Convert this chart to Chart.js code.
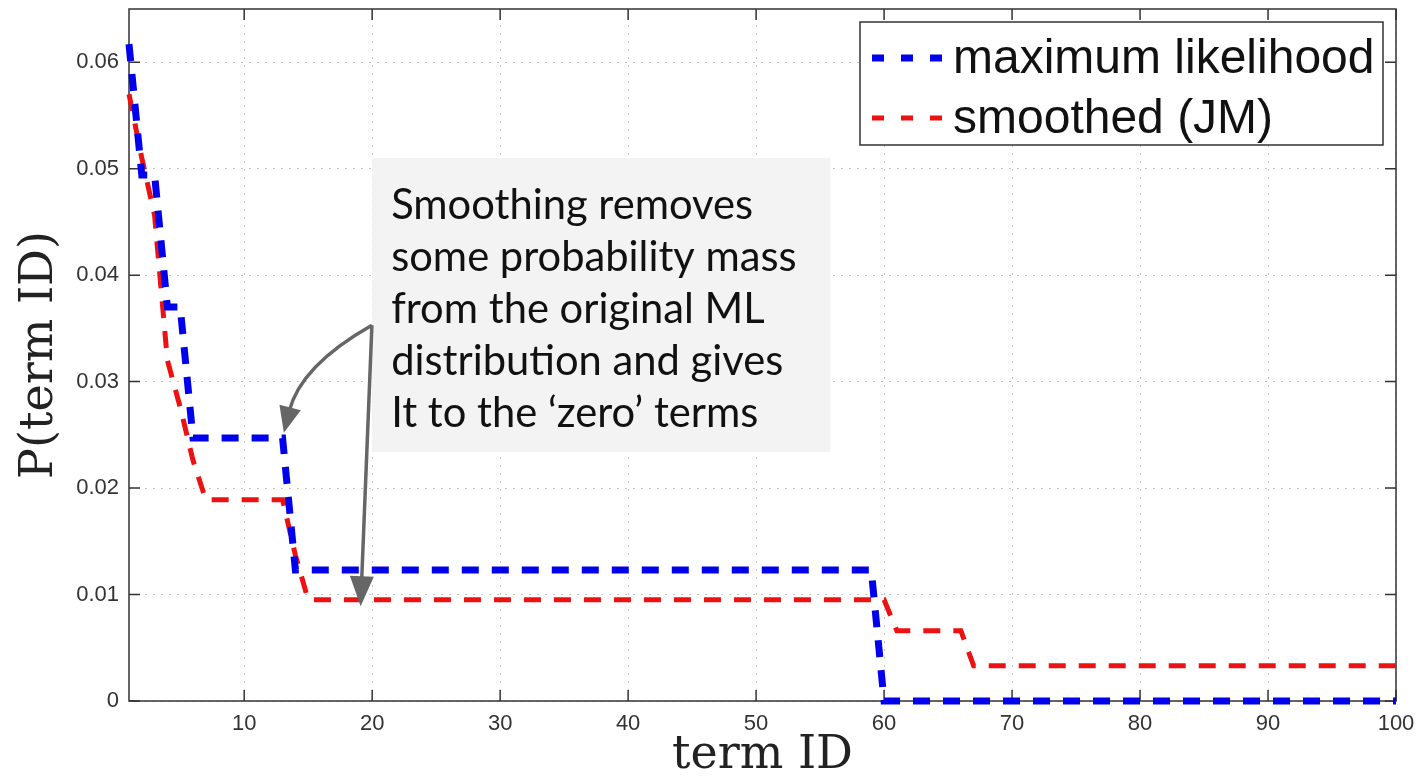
<!DOCTYPE html>
<html>
<head>
<meta charset="utf-8">
<title>P(term ID)</title>
<script src="https://cdn.jsdelivr.net/npm/chart.js@4.4.1/dist/chart.umd.min.js"></script>
<style>
  html, body { margin: 0; padding: 0; background: #fff; }
  #wrap { width: 1421px; height: 779px; position: relative; }
</style>
</head>
<body>
<div id="wrap"><canvas id="termChart"></canvas></div>
<script>
// Term ranks on the x axis
const termIds = [
  1, 2, 3, 4, 5, 6, 7, 8, 9, 10, 11, 12, 13, 14, 15, 16, 17, 18, 19, 20,
  21, 22, 23, 24, 25, 26, 27, 28, 29, 30, 31, 32, 33, 34, 35, 36, 37, 38, 39, 40,
  41, 42, 43, 44, 45, 46, 47, 48, 49, 50, 51, 52, 53, 54, 55, 56, 57, 58, 59, 60,
  61, 62, 63, 64, 65, 66, 67, 68, 69, 70, 71, 72, 73, 74, 75, 76, 77, 78, 79, 80,
  81, 82, 83, 84, 85, 86, 87, 88, 89, 90, 91, 92, 93, 94, 95, 96, 97, 98, 99, 100
];

// Maximum likelihood estimate, one value per term
const mlValues = [
  0.0617, 0.0494, 0.0494, 0.0370, 0.0370, 0.0247, 0.0247, 0.0247, 0.0247, 0.0247,
  0.0247, 0.0247, 0.0247, 0.0123, 0.0123, 0.0123, 0.0123, 0.0123, 0.0123, 0.0123,
  0.0123, 0.0123, 0.0123, 0.0123, 0.0123, 0.0123, 0.0123, 0.0123, 0.0123, 0.0123,
  0.0123, 0.0123, 0.0123, 0.0123, 0.0123, 0.0123, 0.0123, 0.0123, 0.0123, 0.0123,
  0.0123, 0.0123, 0.0123, 0.0123, 0.0123, 0.0123, 0.0123, 0.0123, 0.0123, 0.0123,
  0.0123, 0.0123, 0.0123, 0.0123, 0.0123, 0.0123, 0.0123, 0.0123, 0.0123, 0,
  0, 0, 0, 0, 0, 0, 0, 0, 0, 0,
  0, 0, 0, 0, 0, 0, 0, 0, 0, 0,
  0, 0, 0, 0, 0, 0, 0, 0, 0, 0,
  0, 0, 0, 0, 0, 0, 0, 0, 0, 0
];

// Jelinek-Mercer smoothed estimate
const smoothedValues = [
  0.0570, 0.0510, 0.0456, 0.0320, 0.0276, 0.0226, 0.0189, 0.0189, 0.0189, 0.0189,
  0.0189, 0.0189, 0.0189, 0.0137, 0.0095, 0.0095, 0.0095, 0.0095, 0.0095, 0.0095,
  0.0095, 0.0095, 0.0095, 0.0095, 0.0095, 0.0095, 0.0095, 0.0095, 0.0095, 0.0095,
  0.0095, 0.0095, 0.0095, 0.0095, 0.0095, 0.0095, 0.0095, 0.0095, 0.0095, 0.0095,
  0.0095, 0.0095, 0.0095, 0.0095, 0.0095, 0.0095, 0.0095, 0.0095, 0.0095, 0.0095,
  0.0095, 0.0095, 0.0095, 0.0095, 0.0095, 0.0095, 0.0095, 0.0095, 0.0095, 0.0095,
  0.0066, 0.0066, 0.0066, 0.0066, 0.0066, 0.0066, 0.0033, 0.0033, 0.0033, 0.0033,
  0.0033, 0.0033, 0.0033, 0.0033, 0.0033, 0.0033, 0.0033, 0.0033, 0.0033, 0.0033,
  0.0033, 0.0033, 0.0033, 0.0033, 0.0033, 0.0033, 0.0033, 0.0033, 0.0033, 0.0033,
  0.0033, 0.0033, 0.0033, 0.0033, 0.0033, 0.0033, 0.0033, 0.0033, 0.0033, 0.0033
];

const xTicks = [10, 20, 30, 40, 50, 60, 70, 80, 90, 100];
const yTicks = [0, 0.01, 0.02, 0.03, 0.04, 0.05, 0.06];
const yTickLabels = ['0', '0.01', '0.02', '0.03', '0.04', '0.05', '0.06'];
const seriesNames = ['maximum likelihood', 'smoothed (JM)'];

const noteLines = [
  'Smoothing removes',
  'some probability mass',
  'from the original ML',
  'distribution and gives',
  'It to the \u2018zero\u2019 terms'
];

const BLUE = '#0000ee';
const RED = '#ee1111';
const TICK_FONT = { family: '"Liberation Sans", Arial, sans-serif', size: 22 };
const TITLE_FONT = { family: '"DejaVu Serif", serif', size: 46, lineHeight: 1 };

// note box and arrows, in data coordinates
const noteBox = { x1: 20, x2: 55.8, yTop: 0.051, yBottom: 0.0234 };
const arrowFrom = { x: 19.98, y: 0.0353 };
const curvedArrow = { cx: 14.4, cy: 0.0315, x: 13.1, y: 0.0252 };
const straightArrow = { x: 19.1, y: 0.0089 };

// Frame and inward tick marks (Matlab style)
const framePlugin = {
  id: 'frame',
  beforeDatasetsDraw(chart) {
    const { ctx, chartArea: a, scales: { x, y } } = chart;
    ctx.save();
    ctx.strokeStyle = '#333';
    ctx.lineWidth = 1.5;
    ctx.strokeRect(a.left, a.top, a.right - a.left, a.bottom - a.top);
    ctx.beginPath();
    xTicks.forEach(v => {
      const px = x.getPixelForValue(v);
      ctx.moveTo(px, a.bottom); ctx.lineTo(px, a.bottom - 11);
      ctx.moveTo(px, a.top); ctx.lineTo(px, a.top + 11);
    });
    yTicks.forEach(v => {
      const py = y.getPixelForValue(v);
      ctx.moveTo(a.left, py); ctx.lineTo(a.left + 11, py);
      ctx.moveTo(a.right, py); ctx.lineTo(a.right - 11, py);
    });
    ctx.stroke();
    ctx.restore();
  }
};

const arrowHead = (ctx, fromX, fromY, tipX, tipY, len, half) => {
  const ang = Math.atan2(tipY - fromY, tipX - fromX);
  ctx.beginPath();
  ctx.moveTo(tipX, tipY);
  ctx.lineTo(tipX - len * Math.cos(ang) + half * Math.sin(ang), tipY - len * Math.sin(ang) - half * Math.cos(ang));
  ctx.lineTo(tipX - len * Math.cos(ang) - half * Math.sin(ang), tipY - len * Math.sin(ang) + half * Math.cos(ang));
  ctx.closePath();
  ctx.fill();
};

// Annotation box, arrows and legend
const notePlugin = {
  id: 'note',
  afterDraw(chart) {
    const { ctx, chartArea: a, scales: { x, y } } = chart;
    ctx.save();

    // grey note box
    const bx = x.getPixelForValue(noteBox.x1);
    const by = y.getPixelForValue(noteBox.yTop);
    const bw = x.getPixelForValue(noteBox.x2) - bx;
    const bh = y.getPixelForValue(noteBox.yBottom) - by;
    ctx.fillStyle = '#f3f3f3';
    ctx.fillRect(bx, by, bw, bh);

    ctx.font = '36px Lato, "Open Sans", sans-serif';
    const fit = 36 * 406 / ctx.measureText(noteLines[1]).width;
    ctx.font = fit.toFixed(1) + 'px Lato, "Open Sans", sans-serif';
    ctx.fillStyle = '#111';
    ctx.textBaseline = 'alphabetic';
    ctx.textAlign = 'left';
    noteLines.forEach((line, i) => ctx.fillText(line, bx + 19, by + 61 + i * 52));

    // arrows
    const sx = x.getPixelForValue(arrowFrom.x), sy = y.getPixelForValue(arrowFrom.y);
    const cx = x.getPixelForValue(curvedArrow.cx), cy = y.getPixelForValue(curvedArrow.cy);
    const t1x = x.getPixelForValue(curvedArrow.x), t1y = y.getPixelForValue(curvedArrow.y);
    const t2x = x.getPixelForValue(straightArrow.x), t2y = y.getPixelForValue(straightArrow.y);
    ctx.strokeStyle = '#666';
    ctx.fillStyle = '#666';
    ctx.lineWidth = 3.5;
    const headLen = 26;
    // shorten shafts so they end inside the heads
    const ang1 = Math.atan2(t1y - cy, t1x - cx);
    ctx.beginPath();
    ctx.moveTo(sx, sy);
    ctx.quadraticCurveTo(cx, cy, t1x - (headLen - 4) * Math.cos(ang1), t1y - (headLen - 4) * Math.sin(ang1));
    ctx.stroke();
    arrowHead(ctx, cx, cy, t1x, t1y, headLen, 11);
    const ang2 = Math.atan2(t2y - sy, t2x - sx);
    ctx.beginPath();
    ctx.moveTo(sx, sy);
    ctx.lineTo(t2x - (headLen - 4) * Math.cos(ang2), t2y - (headLen - 4) * Math.sin(ang2));
    ctx.stroke();
    arrowHead(ctx, sx, sy, t2x, t2y, headLen + 4, 12);

    // legend
    const lw = 523, lh = 123;
    const lx = a.right - 13 - lw, ly = a.top + 13;
    ctx.fillStyle = '#fff';
    ctx.fillRect(lx, ly, lw, lh);
    ctx.strokeStyle = '#333';
    ctx.lineWidth = 1.5;
    ctx.strokeRect(lx, ly, lw, lh);
    const colors = [BLUE, RED];
    const widths = [7, 5];
    ctx.font = '48px "Liberation Sans", Arial, sans-serif';
    ctx.textBaseline = 'middle';
    seriesNames.forEach((name, i) => {
      const rowY = ly + 36 + i * 60;
      ctx.save();
      ctx.strokeStyle = colors[i];
      ctx.lineWidth = widths[i];
      ctx.setLineDash([12, 17]);
      ctx.beginPath();
      ctx.moveTo(lx + 12, rowY);
      ctx.lineTo(lx + 85, rowY);
      ctx.stroke();
      ctx.restore();
      ctx.fillStyle = '#111';
      ctx.fillText(name, lx + 93, rowY + 2);
    });
    ctx.restore();
  }
};

const ctx = document.getElementById('termChart');
new Chart(ctx, {
  type: 'line',
  data: {
    labels: termIds,
    datasets: [{
      label: seriesNames[0],
      data: mlValues,
      borderColor: BLUE,
      borderWidth: 7,
      borderDash: [17, 13],
      pointRadius: 0,
      tension: 0,
      clip: false
    }, {
      label: seriesNames[1],
      data: smoothedValues,
      borderColor: RED,
      borderWidth: 5,
      borderDash: [17, 13],
      pointRadius: 0,
      tension: 0,
      clip: false
    }]
  },
  options: {
    responsive: true,
    maintainAspectRatio: false,
    animation: false,
    devicePixelRatio: 1,
    layout: { padding: { top: 9, right: 25, bottom: 0, left: 0 } },
    scales: {
      x: {
        type: 'linear',
        min: 1,
        max: 100,
        afterBuildTicks: (axis) => { axis.ticks = xTicks.map(v => ({ value: v })); },
        afterFit: (axis) => { axis.height = 78; axis.paddingLeft = 0; axis.paddingRight = 0; },
        grid: { color: '#c4c4c4', lineWidth: 1, drawTicks: false },
        border: { display: false, dash: [2, 6] },
        ticks: { color: '#333', font: TICK_FONT, padding: 10, maxRotation: 0, autoSkip: false },
        title: { display: true, text: 'term ID', color: '#222', font: TITLE_FONT, padding: { top: 0, bottom: 0 } }
      },
      y: {
        min: 0,
        max: 0.065,
        afterBuildTicks: (axis) => { axis.ticks = yTicks.map(v => ({ value: v })); },
        afterFit: (axis) => { axis.width = 129; axis.paddingTop = 0; axis.paddingBottom = 0; },
        grid: { color: '#c4c4c4', lineWidth: 1, drawTicks: false },
        border: { display: false, dash: [2, 6] },
        ticks: {
          color: '#333',
          font: TICK_FONT,
          padding: 10,
          callback: (value, index) => yTickLabels[index]
        },
        title: { display: true, text: 'P(term ID)', color: '#222', font: TITLE_FONT, padding: { top: 17, bottom: 0 } }
      }
    },
    plugins: {
      legend: { display: false },
      tooltip: { enabled: false }
    }
  },
  plugins: [framePlugin, notePlugin]
});
</script>
</body>
</html>
